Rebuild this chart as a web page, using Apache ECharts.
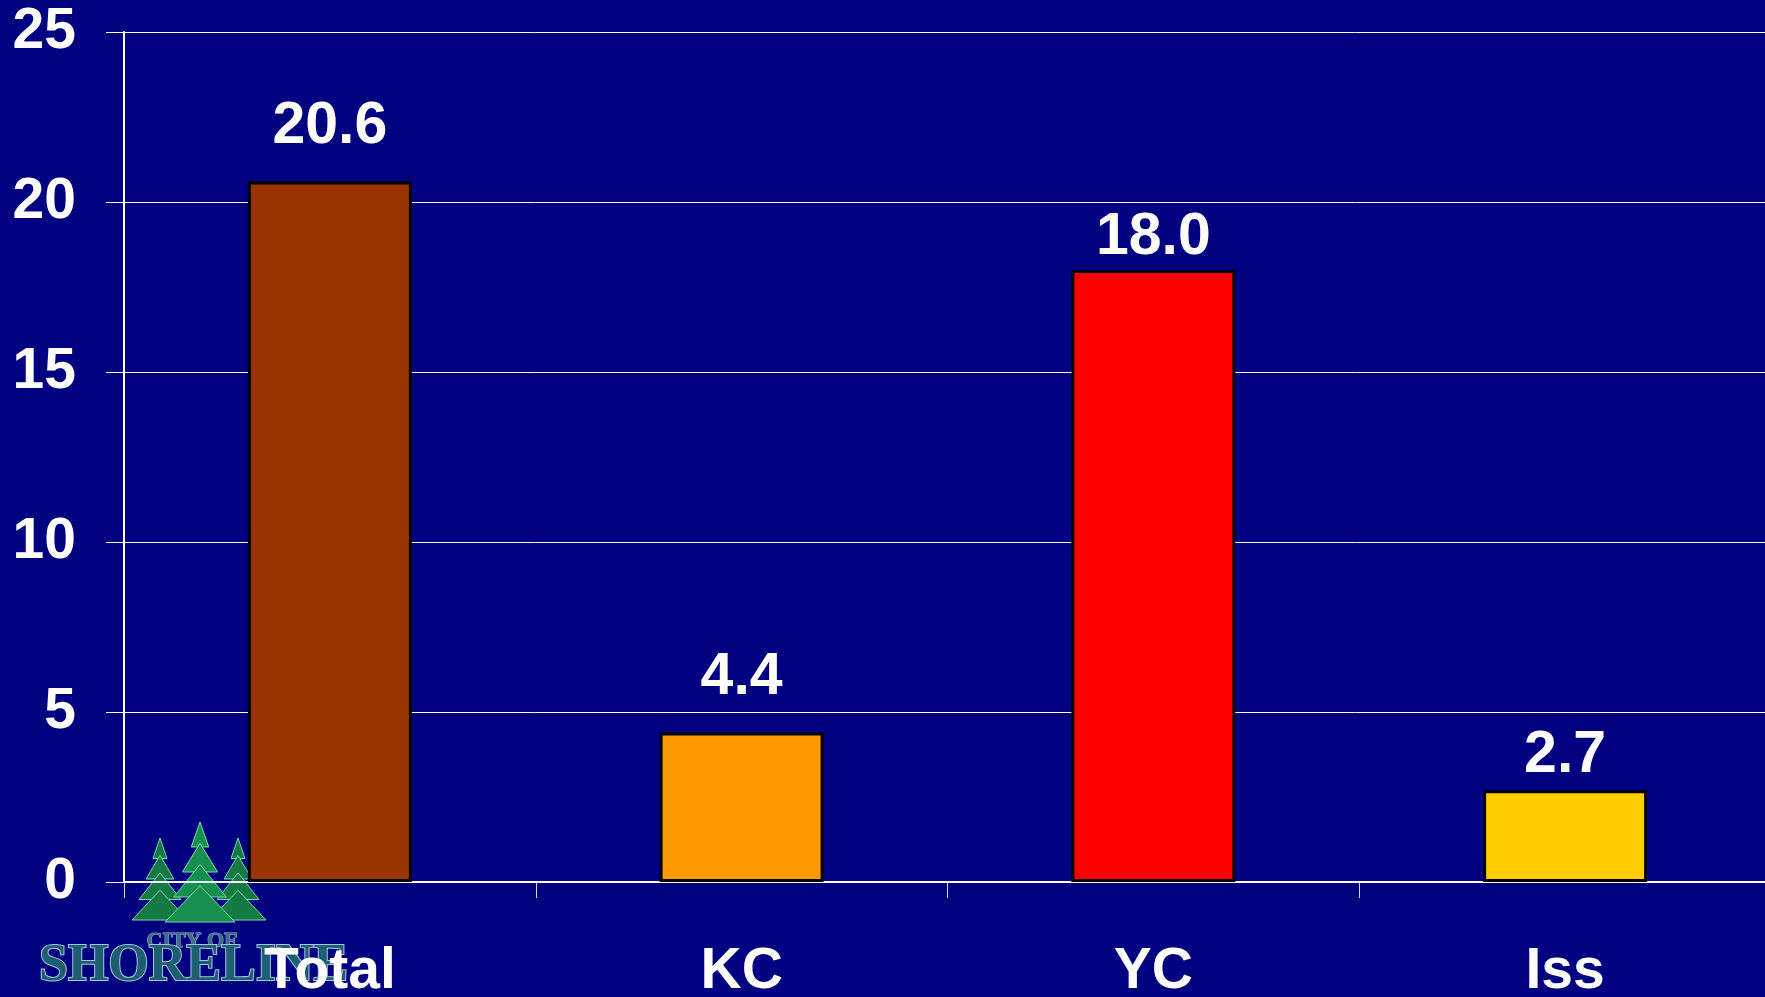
<!DOCTYPE html>
<html lang="en">

<head>
  <meta charset="UTF-8">
  <title>Bar chart</title>
  <style>
    * {
      margin: 0;
      padding: 0;
      box-sizing: border-box;
    }

    body {
      background-color: #000080;
      width: 1765px;
      height: 997px;
      overflow: hidden;
    }

    .chart {
      width: 1765px;
      height: 997px;
    }
  </style>
</head>

<body>
  <div id="chart" class="chart"></div>
  <script src="https://cdn.jsdelivr.net/npm/echarts@6/dist/echarts.min.js"></script>
  <script>
    const categories = ['Total', 'KC', 'YC', 'Iss']
    const values = [20.6, 4.4, 18.0, 2.7]
    const barColors = ['#993300', '#FF9900', '#FF0000', '#FFCC00']
    const yTicks = [0, 5, 10, 15, 20, 25]

    // label gaps above each bar, as placed in the original slide
    const labelDistance = [25, 25, 3, 5]

    const font = 'Liberation Sans, Arial, sans-serif'
    const chart = echarts.init(document.querySelector('#chart'))

    // tree shape for the logo, one triangle stack
    function tree(cx, top, h, w, color) {
      const pts = []
      const tiers = 4
      for (let i = 0; i < tiers; i++) {
        const y0 = top + h * i / tiers * 0.85
        const y1 = top + h * (i + 1) / tiers
        const half = w / 2 * (i + 1) / tiers
        pts.push({
          type: 'polygon',
          shape: { points: [[cx, y0], [cx - half, y1], [cx + half, y1]] },
          style: { fill: color, stroke: '#7fd7a8', lineWidth: 1 }
        })
      }
      return pts
    }

    const logo = [].concat(
      tree(160, 838, 82, 56, '#127a42'),
      tree(238, 838, 82, 56, '#127a42'),
      tree(200, 822, 100, 70, '#16904e'),
      [
        {
          type: 'text',
          left: 146,
          top: 930,
          style: {
            text: 'CITY OF',
            fill: '#3a6f86',
            stroke: '#9fb8d0',
            lineWidth: 1,
            font: 'bold 22px Liberation Serif, serif'
          }
        },
        {
          type: 'text',
          left: 38,
          top: 940,
          style: {
            text: 'SHORELINE',
            fill: '#1d5f70',
            stroke: '#a8c4dc',
            lineWidth: 2,
            font: 'bold 52px Liberation Serif, serif'
          }
        }
      ]
    )

    const options = {
      backgroundColor: '#000080',
      animation: false,
      grid: {
        left: 124,
        top: 32,
        width: 1647,
        bottom: 115,
        containLabel: false,
        outerBoundsMode: 'none'
      },
      graphic: logo.map(function (el) {
        return Object.assign({ z: -1, silent: true }, el)
      }),
      xAxis: {
        type: 'category',
        data: categories,
        axisLine: { lineStyle: { color: '#ffffff', width: 2 } },
        axisTick: {
          show: true,
          length: 16,
          lineStyle: { color: '#d8d8e8', width: 1 }
        },
        axisLabel: {
          color: '#ffffff',
          fontFamily: font,
          fontWeight: 'bold',
          fontSize: 57,
          margin: 62
        }
      },
      yAxis: {
        type: 'value',
        min: yTicks[0],
        max: yTicks[yTicks.length - 1],
        interval: 5,
        axisLine: { show: true, lineStyle: { color: '#ffffff', width: 2 } },
        axisTick: {
          show: true,
          length: 18,
          lineStyle: { color: '#ffffff', width: 1 }
        },
        splitLine: { lineStyle: { color: '#ffffff', width: 1 } },
        axisLabel: {
          color: '#ffffff',
          fontFamily: font,
          fontWeight: 'bold',
          fontSize: 57,
          margin: 48,
          padding: [6, 0, 0, 0]
        }
      },
      series: [
        {
          type: 'bar',
          barWidth: 164,
          data: values.map(function (v, i) {
            return {
              value: v,
              itemStyle: { color: barColors[i] },
              label: { distance: labelDistance[i] }
            }
          }),
          itemStyle: {
            borderColor: '#000000',
            borderWidth: 3
          },
          label: {
            show: true,
            position: 'top',
            color: '#ffffff',
            fontFamily: font,
            fontWeight: 'bold',
            fontSize: 59,
            formatter: function (p) {
              return p.value.toFixed(1)
            }
          }
        }
      ]
    }

    chart.setOption(options)
  </script>
</body>

</html>
